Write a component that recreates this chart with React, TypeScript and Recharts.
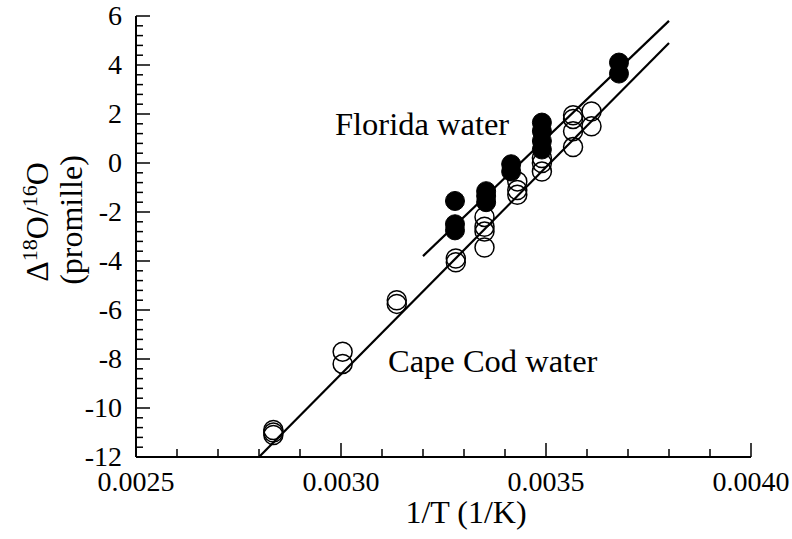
import { ScatterChart, Scatter, XAxis, YAxis } from "recharts";

// ── data ──────────────────────────────────────────────────────────────────────
// Florida water (filled circles)
const floridaPoints = [
  { x: 0.003278, y: -1.55 },
  { x: 0.003278, y: -2.5 },
  { x: 0.003278, y: -2.75 },
  { x: 0.003354, y: -1.15 },
  { x: 0.003354, y: -1.35 },
  { x: 0.003354, y: -1.6 },
  { x: 0.003415, y: -0.05 },
  { x: 0.003415, y: -0.35 },
  { x: 0.00349, y: 1.65 },
  { x: 0.00349, y: 1.3 },
  { x: 0.00349, y: 0.9 },
  { x: 0.00349, y: 0.55 },
  { x: 0.003678, y: 4.1 },
  { x: 0.003678, y: 3.65 },
];

// Cape Cod water (open circles)
const capeCodPoints = [
  { x: 0.002835, y: -10.9 },
  { x: 0.002835, y: -11.0 },
  { x: 0.002835, y: -11.1 },
  { x: 0.003004, y: -7.7 },
  { x: 0.003004, y: -8.2 },
  { x: 0.003136, y: -5.6 },
  { x: 0.003136, y: -5.75 },
  { x: 0.00328, y: -3.9 },
  { x: 0.00328, y: -4.05 },
  { x: 0.00335, y: -2.2 },
  { x: 0.00335, y: -2.6 },
  { x: 0.00335, y: -2.8 },
  { x: 0.00335, y: -3.45 },
  { x: 0.00343, y: -0.75 },
  { x: 0.00343, y: -1.1 },
  { x: 0.00343, y: -1.3 },
  { x: 0.00349, y: 0.2 },
  { x: 0.00349, y: 0.0 },
  { x: 0.00349, y: -0.35 },
  { x: 0.003566, y: 1.95 },
  { x: 0.003566, y: 1.8 },
  { x: 0.003566, y: 1.3 },
  { x: 0.003566, y: 0.65 },
  { x: 0.003611, y: 2.1 },
  { x: 0.003611, y: 1.5 },
];

// fitted lines (end points)
const floridaFit = [
  { x: 0.0032, y: -3.8 },
  { x: 0.0038, y: 5.8 },
];
const capeCodFit = [
  { x: 0.0028, y: -12 },
  { x: 0.0038, y: 4.9 },
];

// ticks
const xMajorTicks = [0.0025, 0.003, 0.0035, 0.004];
const xTicks = [
  0.0025, 0.0026, 0.0027, 0.0028, 0.0029, 0.003, 0.0031, 0.0032,
  0.0033, 0.0034, 0.0035, 0.0036, 0.0037, 0.0038, 0.0039, 0.004,
];
const yMajorTicks = [-12, -10, -8, -6, -4, -2, 0, 2, 4, 6];
const yTicks = [
  -12, -11.6, -11.2, -10.8, -10.4, -10, -9.6, -9.2, -8.8, -8.4, -8,
  -7.6, -7.2, -6.8, -6.4, -6, -5.6, -5.2, -4.8, -4.4, -4, -3.6, -3.2,
  -2.8, -2.4, -2, -1.6, -1.2, -0.8, -0.4, 0, 0.4, 0.8, 1.2, 1.6, 2,
  2.4, 2.8, 3.2, 3.6, 4, 4.4, 4.8, 5.2, 5.6, 6,
];

const FONT = "'Liberation Serif', 'Times New Roman', serif";

const isMajor = (v: number, majors: number[]) =>
  majors.some((m) => Math.abs(m - v) < 1e-9);

// ── ticks pointing inward ─────────────────────────────────────────────────────
function XTick({ x, y, payload }: any) {
  const major = isMajor(payload.value, xMajorTicks);
  return (
    <g>
      <line x1={x} y1={y} x2={x} y2={y - (major ? 14 : 8)} stroke="#000" strokeWidth={1.5} />
      {major && (
        <text x={x} y={y + 34} textAnchor="middle" fontFamily={FONT} fontSize={28} fill="#000">
          {payload.value.toFixed(4)}
        </text>
      )}
    </g>
  );
}

function YTick({ x, y, payload }: any) {
  const major = isMajor(payload.value, yMajorTicks);
  return (
    <g>
      <line x1={x} y1={y} x2={x + (major ? 14 : 7)} y2={y} stroke="#000" strokeWidth={1.5} />
      {major && (
        <text x={x - 14} y={y + 9} textAnchor="end" fontFamily={FONT} fontSize={28} fill="#000">
          {String(Math.round(payload.value))}
        </text>
      )}
    </g>
  );
}

const openCircle = ({ cx, cy }: any) => (
  <circle cx={cx} cy={cy} r={9.5} fill="none" stroke="#000" strokeWidth={1.5} />
);
const filledCircle = ({ cx, cy }: any) => (
  <circle cx={cx} cy={cy} r={9.5} fill="#000" stroke="#000" strokeWidth={1} />
);
const noPoint = () => <g />;

export default function App() {
  return (
    <div style={{ position: "absolute", left: 0, top: 0, width: 792, height: 539, background: "#fff" }}>
      <ScatterChart width={792} height={539} margin={{ top: 16, right: 41, bottom: 0, left: 0 }}>
        <XAxis
          xAxisId="b"
          type="number"
          dataKey="x"
          domain={[0.0025, 0.004]}
          ticks={xTicks}
          interval={0}
          allowDataOverflow
          height={82}
          tickSize={0}
          tickMargin={0}
          tickLine={false}
          tick={<XTick />}
          axisLine={{ stroke: "#000", strokeWidth: 2 }}
        />
        <XAxis
          xAxisId="t"
          orientation="top"
          type="number"
          dataKey="x"
          domain={[0.0025, 0.004]}
          height={0}
          tick={false}
          tickLine={false}
          axisLine={{ stroke: "#000", strokeWidth: 2 }}
        />
        <YAxis
          yAxisId="l"
          type="number"
          dataKey="y"
          domain={[-12, 6]}
          ticks={yTicks}
          interval={0}
          allowDataOverflow
          width={136}
          tickSize={0}
          tickMargin={0}
          tickLine={false}
          tick={<YTick />}
          axisLine={{ stroke: "#000", strokeWidth: 2 }}
        />
        <YAxis
          yAxisId="r"
          orientation="right"
          type="number"
          dataKey="y"
          domain={[-12, 6]}
          width={0}
          tick={false}
          tickLine={false}
          axisLine={{ stroke: "#000", strokeWidth: 2 }}
        />
        <Scatter xAxisId="b" yAxisId="l" data={capeCodPoints} shape={openCircle} isAnimationActive={false} />
        <Scatter xAxisId="b" yAxisId="l" data={floridaPoints} shape={filledCircle} isAnimationActive={false} />
        <Scatter
          xAxisId="b"
          yAxisId="l"
          data={floridaFit}
          line={{ stroke: "#000", strokeWidth: 2.2 }}
          shape={noPoint}
          isAnimationActive={false}
        />
        <Scatter
          xAxisId="b"
          yAxisId="l"
          data={capeCodFit}
          line={{ stroke: "#000", strokeWidth: 2.2 }}
          shape={noPoint}
          isAnimationActive={false}
        />
        {/* in-plot labels */}
        <text x={335} y={135} fontFamily={FONT} fontSize={32.5} fill="#000">
          Florida water
        </text>
        <text x={388} y={372} fontFamily={FONT} fontSize={32.5} fill="#000">
          Cape Cod water
        </text>
        {/* axis titles */}
        <text x={466} y={523} textAnchor="middle" fontFamily={FONT} fontSize={32} fill="#000">
          1/T (1/K)
        </text>
        <g transform="translate(48,222) rotate(-90)">
          <text x={0} y={0} textAnchor="middle" fontFamily={FONT} fontSize={32} fill="#000">
            Δ<tspan fontSize={22} dy={-11}>18</tspan>
            <tspan dy={11}>O/</tspan>
            <tspan fontSize={22} dy={-11}>16</tspan>
            <tspan dy={11}>O</tspan>
          </text>
        </g>
        <g transform="translate(82,220) rotate(-90)">
          <text x={0} y={0} textAnchor="middle" fontFamily={FONT} fontSize={32} fill="#000">
            (promille)
          </text>
        </g>
      </ScatterChart>
    </div>
  );
}
